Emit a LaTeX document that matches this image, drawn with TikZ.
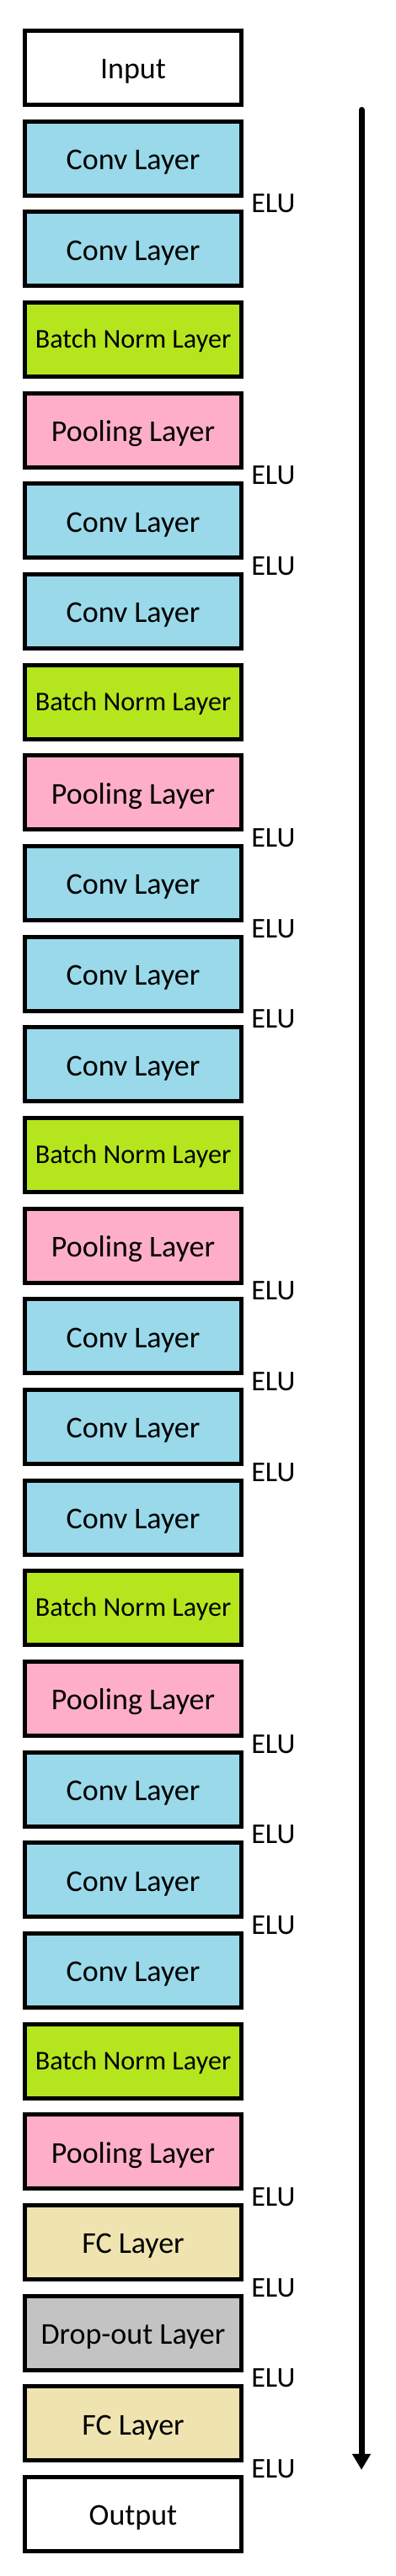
\documentclass[tikz,border=0pt]{standalone}
\usepackage{fontspec}
\setmainfont{Carlito}
\usetikzlibrary{arrows.meta}
\definecolor{convblue}{HTML}{99D9EA}
\definecolor{normgreen}{HTML}{B5E61D}
\definecolor{poolpink}{HTML}{FFAEC9}
\definecolor{fctan}{HTML}{EFE4B0}
\definecolor{dropgray}{HTML}{C3C3C3}
\begin{document}
\begin{tikzpicture}
        \useasboundingbox (0,1.4953) rectangle (8.712,-55.363);
        \begin{scope}[every node/.style={rectangle,draw,line width=2.64pt,minimum width=4.774cm,minimum height=1.635cm,inner sep=0pt,text height=14pt,text depth=0pt,font=\fontsize{19}{22}\selectfont},
            conv/.style={fill=convblue},
            norm/.style={fill=normgreen,text height=10.5pt,font=\fontsize{17}{20}\selectfont},
            pool/.style={fill=poolpink},
            fc/.style={fill=fctan},
            drop/.style={fill=dropgray}]
          \node (in) at (2.935,0) {Input};
          \node[conv] (c1) at (2.935,-2) {Conv Layer};
          \node[conv] (c2) at (2.935,-4) {Conv Layer};
          \node[norm] (b1) at (2.935,-6) {Batch Norm Layer};
          \node[pool] (p1) at (2.935,-8) {Pooling Layer};
          \node[conv] (c3) at (2.935,-10) {Conv Layer};
          \node[conv] (c4) at (2.935,-12) {Conv Layer};
          \node[norm] (b2) at (2.935,-14) {Batch Norm Layer};
          \node[pool] (p2) at (2.935,-16) {Pooling Layer};
          \node[conv] (c5) at (2.935,-18) {Conv Layer};
          \node[conv] (c6) at (2.935,-20) {Conv Layer};
          \node[conv] (c7) at (2.935,-22) {Conv Layer};
          \node[norm] (b3) at (2.935,-24) {Batch Norm Layer};
          \node[pool] (p3) at (2.935,-26) {Pooling Layer};
          \node[conv] (c8) at (2.935,-28) {Conv Layer};
          \node[conv] (c9) at (2.935,-30) {Conv Layer};
          \node[conv] (c10) at (2.935,-32) {Conv Layer};
          \node[norm] (b4) at (2.935,-34) {Batch Norm Layer};
          \node[pool] (p4) at (2.935,-36) {Pooling Layer};
          \node[conv] (c11) at (2.935,-38) {Conv Layer};
          \node[conv] (c12) at (2.935,-40) {Conv Layer};
          \node[conv] (c13) at (2.935,-42) {Conv Layer};
          \node[norm] (b5) at (2.935,-44) {Batch Norm Layer};
          \node[pool] (p5) at (2.935,-46) {Pooling Layer};
          \node[fc] (f1) at (2.935,-48) {FC Layer};
          \node[drop] (d1) at (2.935,-50) {Drop-out Layer};
          \node[fc] (f2) at (2.935,-52) {FC Layer};
          \node (out) at (2.935,-54) {Output};
        \end{scope}
        \begin{scope}[every node/.style={anchor=west,inner sep=0pt,font=\fontsize{18}{21}\selectfont}]
          \node (e1) at (5.535,-3) {ELU};
          \node (e2) at (5.535,-9) {ELU};
          \node (e3) at (5.535,-11) {ELU};
          \node (e4) at (5.535,-17) {ELU};
          \node (e5) at (5.535,-19) {ELU};
          \node (e6) at (5.535,-21) {ELU};
          \node (e7) at (5.535,-27) {ELU};
          \node (e8) at (5.535,-29) {ELU};
          \node (e9) at (5.535,-31) {ELU};
          \node (e10) at (5.535,-37) {ELU};
          \node (e11) at (5.535,-39) {ELU};
          \node (e12) at (5.535,-41) {ELU};
          \node (e13) at (5.535,-47) {ELU};
          \node (e14) at (5.535,-49) {ELU};
          \node (e15) at (5.535,-51) {ELU};
          \node (e16) at (5.535,-53) {ELU};
        \end{scope}
        \coordinate (top) at (7.969,-0.929);
        \coordinate (tip) at (7.969,-53.02);
        \draw[line width=3.7pt,line cap=round,-{Triangle[width=11pt,length=10pt]}] (top) -- (tip);
\end{tikzpicture}
\end{document}
